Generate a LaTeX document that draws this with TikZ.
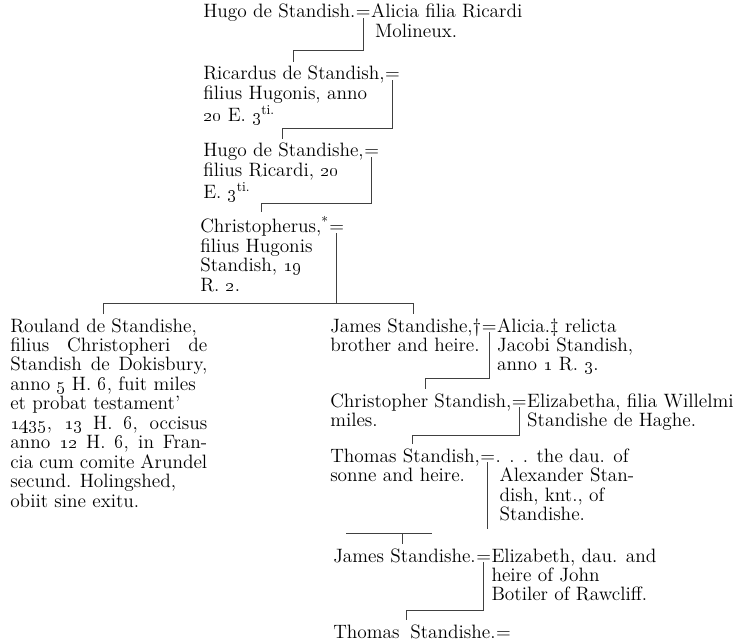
\documentclass[tikz,border=0pt]{standalone}
\usepackage{tikz}
\usetikzlibrary{positioning}

\newcommand{\osf}[1]{\oldstylenums{#1}}
\newcommand{\jline}[1]{\makebox[147.75pt][s]{#1}}
\newcommand{\stack}[1]{\begin{tabular}[t]{@{}l@{}}#1\end{tabular}}

\begin{document}
\begin{tikzpicture}[x=0.75pt, y=-0.75pt,
  person/.style={anchor=base west, inner sep=0pt, font=\fontsize{14.5pt}{14.6pt}\selectfont},
  wed/.style={anchor=base west, inner sep=0pt, font=\fontsize{14.5pt}{14.6pt}\selectfont},
  tie/.style={draw=black!75, line width=0.5pt},
  drop/.style={tie, shorten >=3pt}]
  \useasboundingbox (0,0) rectangle (745,641);

  % upper line
  \node[person] (hugo) at (203,18) {Hugo de Standish.};
  \node[wed] (eq1) at (hugo.base east) {=};
  \node[person] (alicia) at (eq1.base east) {\stack{Alicia filia Ricardi\\\hspace{3pt}Molineux.}};

  \node[person] (ricardus) at (203,80) {\stack{Ricardus de Standish,\\filius Hugonis, anno\\\osf{20} E. \osf{3}\textsuperscript{ti.}}};
  \node[wed] (eq2) at (ricardus.base east) {=};

  \node[person] (hugob) at (203,157) {\stack{Hugo de Standishe,\\filius Ricardi, \osf{20}\\E. \osf{3}\textsuperscript{ti.}}};
  \node[wed] (eq3) at (hugob.base east) {=};

  \node[person] (christ) at (200,233) {\stack{Christopherus,\textsuperscript{*}\\filius Hugonis\\Standish, \osf{19}\\R. \osf{2}.}};
  \node[wed] (eq4) at (christ.base east) {=};

  % sons of Christopherus
  \node[person] (rouland) at (10,332) {\stack{Rouland de Standishe,\\
    \jline{filius Christopheri de}\\
    \jline{Standish de Dokisbury,}\\
    anno \osf{5} H. \osf{6}, fuit miles\\
    et probat testament'\\
    \jline{\osf{1435}, \osf{13} H. \osf{6}, occisus}\\
    \jline{anno \osf{12} H. \osf{6}, in Fran-}\\
    \jline{cia cum comite Arundel}\\
    secund. Holingshed,\\
    obiit sine exitu.}};

  \node[person] (james) at (330,332) {\stack{James Standishe,\dag\\brother and heire.}};
  \node[wed] (eq5) at (james.base east) {=};
  \node[person] (aliciab) at (eq5.base east) {\stack{Alicia.\ddag{} relicta\\Jacobi Standish,\\anno \osf{1} R. \osf{3}.}};

  % lower line
  \node[person] (christb) at (330,407) {\stack{Christopher Standish,\\miles.}};
  \node[wed] (eq6) at (christb.base east) {=};
  \node[person] (eliz) at (eq6.base east) {\stack{Elizabetha, filia Willelmi\\Standishe de Haghe.}};

  \node[person] (thomas) at (330,462) {\stack{Thomas Standish,\\sonne and heire.}};
  \node[wed] (eq7) at (thomas.base east) {=};
  \node[person] (dau) at (eq7.base east) {\stack{. . . the dau. of\\\hspace{3pt}Alexander Stan-\\\hspace{3pt}dish, knt., of\\\hspace{3pt}Standishe.}};

  \node[person] (jamesb) at (333,562) {James Standishe.};
  \node[wed] (eq8) at (jamesb.base east) {=};
  \node[person] (elizb) at (eq8.base east) {\stack{Elizabeth, dau. and\\heire of John\\Botiler of Rawcliff.}};

  \node[person] (thomasb) at (333,638) {Thomas\hspace{8pt}Standishe.};
  \node[wed] (eq9) at (thomasb.base east) {=};

  % descent lines
  \coordinate (k1) at (293,50);
  \coordinate (k2) at (282,128);
  \coordinate (k3) at (261,203);
  \coordinate (k4a) at (103,303);
  \coordinate (k4b) at (413,303);
  \coordinate (k5) at (425,378);
  \coordinate (k6) at (412,435);
  \coordinate (k7a) at (346,533);
  \coordinate (k7b) at (432,533);
  \coordinate (k7) at (402,533);
  \coordinate (k8) at (406,610);

  \draw[drop] (eq1.south) |- (k1) -- (k1 |- ricardus.north);
  \draw[drop] (eq2.south) |- (k2) -- (k2 |- hugob.north);
  \draw[drop] (eq3.south) |- (k3) -- (k3 |- christ.north);
  \draw[tie] (eq4.south) -- (eq4.south |- k4a);
  \draw[drop, shorten <=3pt] (k4a |- rouland.north) -- (k4a) -- (k4b) -- (k4b |- james.north);
  \draw[drop] (eq5.south) |- (k5) -- (k5 |- christb.north);
  \draw[drop] (eq6.south) |- (k6) -- (k6 |- thomas.north);
  \draw[drop] (eq7.south) -- (eq7.south |- k7a);
  \draw[tie] (k7a) -- (k7b);
  \draw[drop] (k7) -- (k7 |- jamesb.north);
  \draw[drop] (eq8.south) |- (k8) -- (k8 |- thomasb.north);
\end{tikzpicture}
\end{document}
